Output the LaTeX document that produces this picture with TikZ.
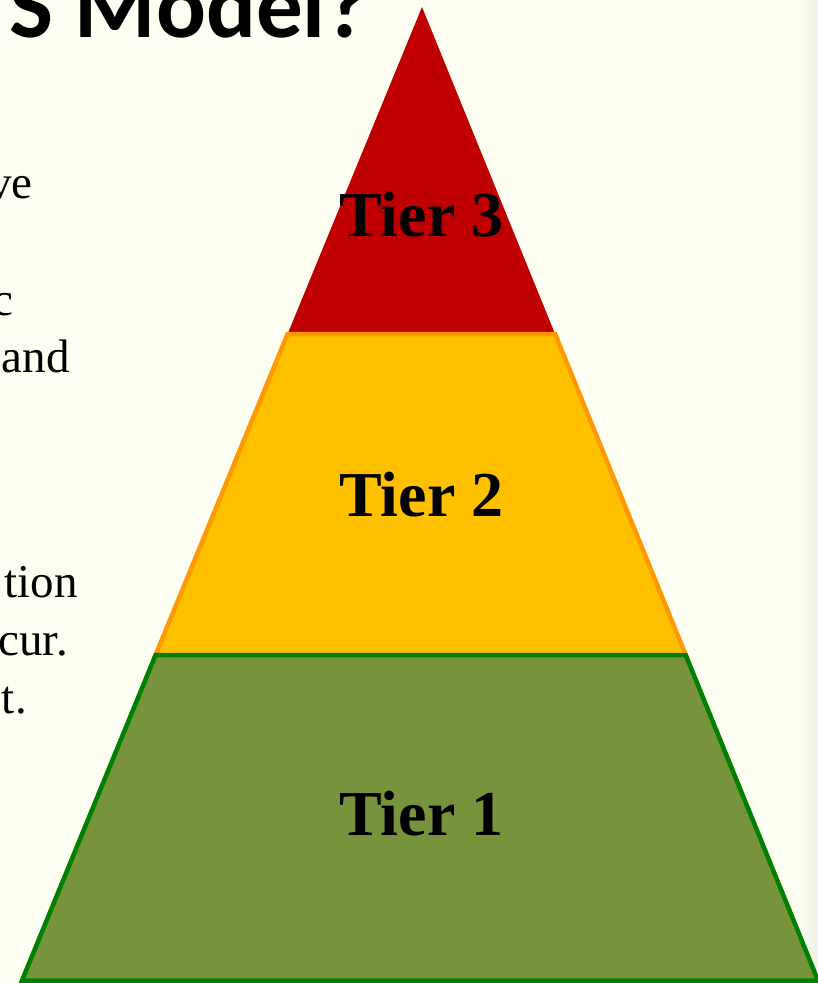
\documentclass[tikz,border=0pt]{standalone}
\usepackage{fontspec}
\setmainfont{Liberation Serif}
\newfontfamily\titlefont{Carlito}
\definecolor{bgcream}{RGB}{254,254,242}
\definecolor{bgedge}{RGB}{240,240,228}
\definecolor{tierred}{RGB}{192,0,0}
\definecolor{tieryellow}{RGB}{255,192,0}
\definecolor{tierorange}{RGB}{255,153,0}
\definecolor{tiergreen}{RGB}{119,147,60}
\definecolor{tiergreenline}{RGB}{0,128,0}
\begin{document}
\begin{tikzpicture}[x=1pt,y=-1pt,
  tierlabel/.style={anchor=base,inner sep=0pt,font=\fontsize{64}{64}\selectfont\bfseries},
  bodyfrag/.style={anchor=base east,inner sep=0pt,font=\fontsize{47}{57}\selectfont},
  titletext/.style={anchor=base east,inner sep=0pt,font=\titlefont\fontsize{93}{93}\selectfont\bfseries},
  tierline/.style={line width=4.5pt,line join=miter}]
\useasboundingbox (0,0) rectangle (817,983);
\fill[bgcream] (0,0) rectangle (817,983);
\shade[left color=bgcream,right color=bgedge] (798,0) rectangle (817,983);

% pyramid corners
\coordinate (apex) at (422,7);
\coordinate (l3) at (287.6,334);
\coordinate (r3) at (555.1,334);
\coordinate (l2) at (155.6,655);
\coordinate (r2) at (685.7,655);
\coordinate (l1) at (22,980.5);
\coordinate (r1) at (818,980.5);

\fill[tierred] (apex) -- (r3) -- (l3) -- cycle;
\filldraw[fill=tieryellow,draw=tierorange,tierline] (l3) -- (r3) -- (r2) -- (l2) -- cycle;
\filldraw[fill=tiergreen,draw=tiergreenline,tierline] (l2) -- (r2) -- (r1) -- (l1) -- cycle;

\node[tierlabel] (t3) at (421.5,236) {Tier 3};
\node[tierlabel] (t2) at (421.5,516) {Tier 2};
\node[tierlabel] (t1) at (421.5,835) {Tier 1};

% title fragment
\node[titletext] (title) at (369,37) {S Model?};

% left body text fragments
\node[bodyfrag] (f1) at (33,198) {ve};
\node[bodyfrag] (f2) at (14,315) {c};
\node[bodyfrag] (f3) at (70,372) {and};
\node[bodyfrag] (f4) at (78,597) {tion};
\node[bodyfrag] (f5) at (68,655) {cur.};
\node[bodyfrag] (f6) at (27,713) {t.};
\end{tikzpicture}
\end{document}
